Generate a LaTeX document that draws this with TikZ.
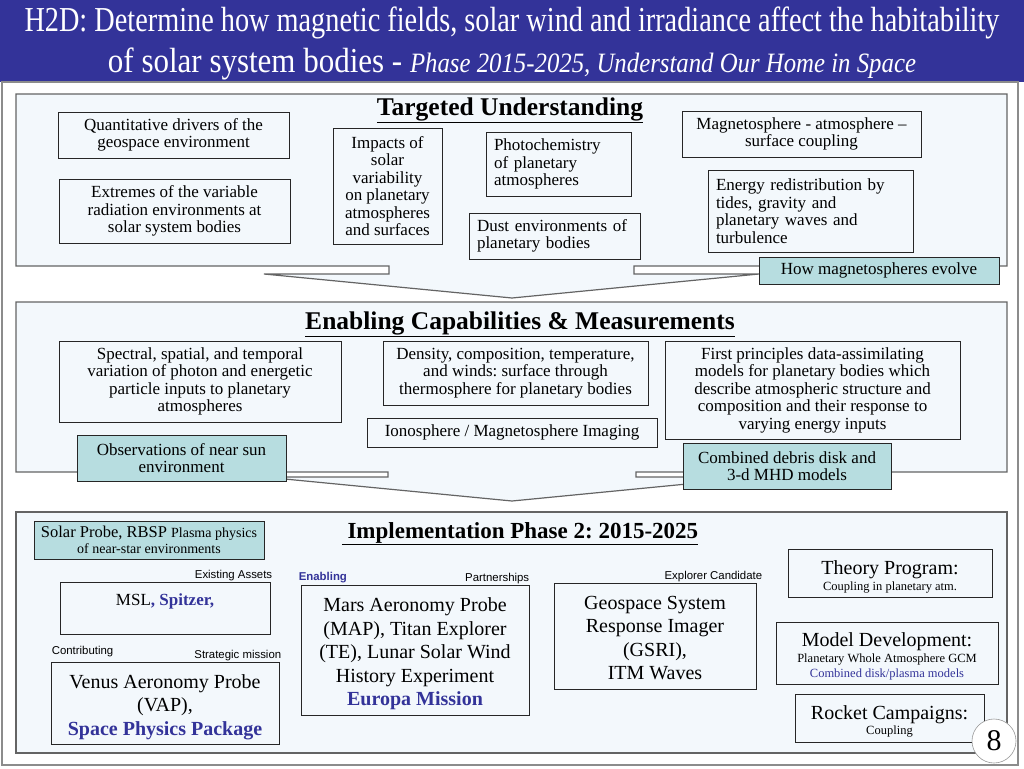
\documentclass[tikz,border=0pt]{standalone}
\usepackage{fontspec}
\setmainfont{Liberation Serif}
\setsansfont{Liberation Sans}
\usetikzlibrary{positioning}
\definecolor{titleblue}{RGB}{51,51,153}
\definecolor{panelfill}{RGB}{243,248,252}
\definecolor{tealfill}{RGB}{183,221,224}
\definecolor{panelline}{RGB}{100,100,100}
\tikzset{
	panel/.style={draw=panelline, line width=1.2, fill=panelfill},
	box/.style={draw=black!85, line width=0.8, fill=panelfill, align=center, inner sep=2pt, font=\fontsize{17}{17.5}\selectfont},
	leftbox/.style={box, align=left, inner xsep=8pt},
	tealbox/.style={box, fill=tealfill},
	bigbox/.style={box, font=\fontsize{20}{23.5}\selectfont},
	head/.style={font=\fontsize{25.5}{28}\selectfont\bfseries, inner sep=0pt, anchor=base},
	tag/.style={font=\sffamily\fontsize{11.4}{13}\selectfont, inner sep=1pt},
	pagenum/.style={circle, draw=black!40, line width=0.6, fill=white, minimum size=44, inner sep=0pt, font=\fontsize{30}{30}\selectfont},
}
\begin{document}
\frenchspacing
\begin{tikzpicture}[x=1pt,y=-1pt]
			\useasboundingbox (0,0) rectangle (1024,768);
			%title bar
			\fill[titleblue] (0,0) rectangle (1024,82);
			\draw[black!45, line width=1.2] (2,82) rectangle (1018,765);
			\node[anchor=base, text=white, inner sep=0pt] (title1) at (512,32) {\resizebox{975pt}{\height}{\fontsize{35}{38}\selectfont H2D: Determine how magnetic fields, solar wind and irradiance affect the habitability}};
			\node[anchor=base, text=white, inner sep=0pt] (title2) at (512,73) {\resizebox{808pt}{\height}{\fontsize{35}{38}\selectfont of solar system bodies \raisebox{1pt}{-} {\itshape\fontsize{28}{30}\selectfont Phase 2015-2025, Understand Our Home in Space}}};
			
			%panel 1
			\draw[panel] (16,94) -- (1007,94) -- (1007,266) -- (634,266) -- (634,274) -- (759,274) -- (512,298) -- (264,274) -- (389,274) -- (389,266) -- (16,266) -- cycle;
			\node[head] (target) at (510,115) {\underline{Targeted Understanding}};
			\node[box, minimum width=231, minimum height=46] (drivers) at (173.5,135) {Quantitative drivers of the\\geospace environment};
			\node[box, minimum width=231, minimum height=64] (extremes) at (174.5,211) {Extremes of the variable\\radiation environments at\\solar system bodies};
			\node[box, minimum width=109, minimum height=116] (impacts) at (387.5,186) {Impacts of\\solar\\variability\\on planetary\\atmospheres\\and surfaces};
			\node[leftbox, text width=129, minimum height=64] (photo) at (558.5,164) {Photochemistry\\of planetary\\atmospheres};
			\node[leftbox, text width=155, minimum height=46] (dust) at (554.5,236) {Dust environments of\\planetary bodies};
			\node[box, minimum width=239, minimum height=46] (coupling) at (801.5,134) {Magnetosphere - atmosphere –\\surface coupling};
			\node[leftbox, text width=189, minimum height=82] (energy) at (810.5,211) {Energy redistribution by\\tides, gravity and\\planetary waves and\\turbulence};
			\node[tealbox, minimum width=240, minimum height=27] (evolve) at (879,270.5) {How magnetospheres evolve};
			
			%panel 2
			\draw[panel] (16,302) -- (1007,302) -- (1007,472) -- (636,472) -- (636,477) -- (759,477) -- (512,501) -- (264,477) -- (388,477) -- (388,472) -- (16,472) -- cycle;
			\node[head] (enable) at (520,329) {\underline{Enabling Capabilities \& Measurements}};
			\node[box, minimum width=282, minimum height=81] (spectral) at (200,381.5) {Spectral, spatial, and temporal\\variation of photon and energetic\\particle inputs to planetary\\atmospheres};
			\node[tealbox, minimum width=209, minimum height=46] (nearsun) at (181.5,458) {Observations of near sun\\environment};
			\node[box, minimum width=265, minimum height=64] (density) at (515.5,373) {Density, composition, temperature,\\and winds: surface through\\thermosphere for planetary bodies};
			\node[box, minimum width=290, minimum height=29] (imaging) at (512,432.5) {Ionosphere / Magnetosphere Imaging};
			\node[box, minimum width=295, minimum height=98] (models) at (812.5,390) {First principles data-assimilating\\models for planetary bodies which\\describe atmospheric structure and\\composition and their response to\\varying energy inputs};
			\node[tealbox, minimum width=208, minimum height=46] (debris) at (787,466) {Combined debris disk and\\3-d MHD models};
			
			%panel 3
			\draw[panel] (16,512) rectangle (1007,753);
			\node[head, font=\fontsize{23}{26}\selectfont\bfseries] (phase) at (520,538) {\underline{\ Implementation Phase 2: 2015-2025}};
			\node[tealbox, minimum width=230, minimum height=38, font=\fontsize{16.5}{16}\selectfont] (probe) at (149,540) {Solar Probe, RBSP {\fontsize{14}{16}\selectfont Plasma physics}\\{\fontsize{14}{16}\selectfont of near-star environments}};
			\node[box, minimum width=210, minimum height=52] (msl) at (165,608) {MSL\textcolor{titleblue}{\bfseries, Spitzer,}\\\mbox{}};
			\node[bigbox, minimum width=228, minimum height=82] (venus) at (165,703) {\rule{0pt}{22pt}Venus Aeronomy Probe\\(VAP),\\\textcolor{titleblue}{\bfseries Space Physics Package}};
			\node[bigbox, minimum width=228, minimum height=130] (mars) at (415,650) {\rule{0pt}{22pt}Mars Aeronomy Probe\\(MAP), Titan Explorer\\(TE), Lunar Solar Wind\\History Experiment\\\textcolor{titleblue}{\bfseries Europa Mission}};
			\node[bigbox, minimum width=202, minimum height=106] (gsri) at (655,636) {\rule{0pt}{17pt}Geospace System\\Response Imager\\(GSRI),\\ITM Waves};
			\node[box, minimum width=204, minimum height=48, font=\fontsize{20}{20}\selectfont] (theory) at (890,573) {\rule{0pt}{21pt}Theory Program:\\[-4pt]{\fontsize{12.5}{17}\selectfont Coupling in planetary atm.}};
			\node[box, minimum width=222, minimum height=62, font=\fontsize{20}{20}\selectfont] (develop) at (887,653) {\rule{0pt}{20pt}Model Development:\\[-4pt]{\fontsize{12.5}{16}\selectfont Planetary Whole Atmosphere GCM}\\[-5pt]{\fontsize{12.5}{15}\selectfont\color{titleblue} Combined disk/plasma models}};
			\node[box, minimum width=189, minimum height=48, font=\fontsize{20}{20}\selectfont] (rocket) at (889.5,718) {\rule{0pt}{20pt}Rocket Campaigns:\\[-5pt]{\fontsize{12.5}{16}\selectfont Coupling}};
			\node[tag, anchor=south east] (assets) at ([xshift=3]msl.north east) {Existing Assets};
			\node[tag, anchor=south west, text=titleblue, font=\sffamily\bfseries\fontsize{11.4}{13}\selectfont] (enabling) at ([xshift=-3]mars.north west) {Enabling};
			\node[tag, anchor=south east] (partner) at ([xshift=1]mars.north east) {Partnerships};
			\node[tag, anchor=south east] (explorer) at ([xshift=7]gsri.north east) {Explorer Candidate};
			\node[tag, anchor=south west] (contrib) at ([xshift=0,yshift=4]venus.north west) {Contributing};
			\node[tag, anchor=south east] (strategic) at ([xshift=3]venus.north east) {Strategic mission};
			\node[pagenum] (page) at (994,741) {8};
		\end{tikzpicture}
\end{document}
